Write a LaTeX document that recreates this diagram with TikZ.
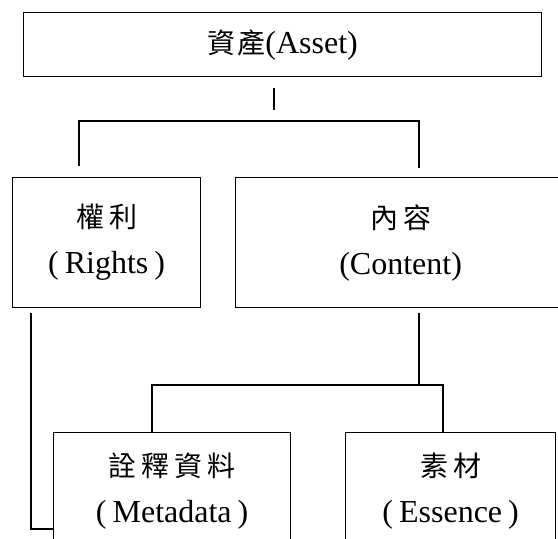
\documentclass[tikz,border=0pt]{standalone}
\usepackage{fontspec}
\setmainfont{Liberation Serif}
\newfontfamily\cjk{Noto Sans CJK TC}
\newcommand{\cg}{\hspace{5pt}}
\newcommand{\pg}{\hspace{6pt}}
\newcommand{\zh}[1]{{\cjk\fontsize{28}{46}\selectfont #1}}
\begin{document}
\begin{tikzpicture}[x=1pt,y=-1pt,
  box/.style={draw, line width=1.3pt, inner sep=0pt, anchor=north west, align=center,
              font=\fontsize{32}{46}\selectfont},
  link/.style={line width=1.1pt}]
\useasboundingbox (0,0) rectangle (558,539);
\clip (0,0) rectangle (558,539);
\node[box, minimum width=518pt, minimum height=64pt] (asset) at (23,12) {\raisebox{-3pt}{\zh{資\hspace{2pt}產}(Asset)}};
\node[box, minimum width=188pt, minimum height=130pt] (rights) at (12,177) {\zh{權\cg 利}\\(\pg Rights\pg)};
\node[box, minimum width=330pt, minimum height=130pt] (content) at (235,177) {\zh{內\cg 容}\\(Content)};
\node[box, minimum width=237pt, minimum height=116pt] (meta) at (53,432) {\zh{詮\cg 釋\cg 資\cg 料}\\(\pg Metadata\pg)};
\node[box, minimum width=210pt, minimum height=116pt] (ess) at (345,432) {\zh{素\cg 材}\\(\pg Essence\pg)};
% connectors
\coordinate (s1) at (274,88);
\coordinate (s2) at (274,110);
\coordinate (s3) at (274,121);
\coordinate (b1) at (79,166);
\coordinate (b2) at (419,168);
\draw[link] (s1) -- (s2);
\draw[link] (b1) |- (s3) -| (b2);
\coordinate (r1) at (31,313);
\coordinate (r2) at (53,529);
\draw[link] (r1) |- (r2);
\coordinate (c1) at (419,313);
\coordinate (c2) at (419,385);
\coordinate (m1) at (152,432);
\coordinate (e1) at (443,432);
\draw[link] (c1) -- (c2);
\draw[link] (m1) |- (c2) -| (e1);
\end{tikzpicture}
\end{document}
